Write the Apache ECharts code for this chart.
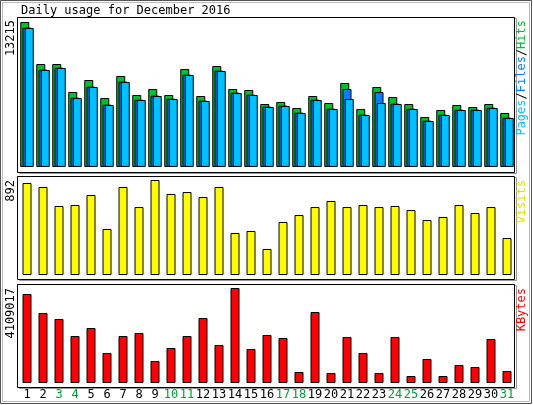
<!DOCTYPE html>
<html><head><meta charset="utf-8">
<script src="https://cdn.jsdelivr.net/npm/echarts@6/dist/echarts.min.js"></script>
<style>html,body{margin:0;padding:0;background:#fff}#c{width:533px;height:405px}</style>
</head><body><div id="c"></div>
<script>
const days = ['1','2','3','4','5','6','7','8','9','10','11','12','13','14','15','16','17','18','19','20','21','22','23','24','25','26','27','28','29','30','31'];
const weekendDays = ['3','4','10','11','17','18','24','25','31'];
const hits = [13215,9387,9387,6836,7929,6289,8294,6562,7109,6562,8932,6471,9205,7109,7018,5742,5924,5377,6471,5833,7656,5286,7291,6380,5742,4557,5195,5651,5468,5742,4922];
const files = [12700,8870,9050,6310,7320,5680,7780,6130,6500,6220,8410,6040,8780,6770,6590,5500,5590,4950,6130,5310,7109,4760,6836,5770,5310,4220,4760,5220,5220,5400,4490];
const pages = [12668,8841,9023,6289,7291,5651,7747,6106,6471,6198,8385,6015,8749,6744,6562,5468,5560,4922,6106,5286,6198,4739,5833,5742,5286,4192,4739,5195,5195,5377,4466];
const visits = [864,826,648,657,751,432,826,638,892,761,779,732,826,394,413,244,498,563,638,695,638,657,638,648,610,516,545,657,582,638,347];
const kbytes = [3850000,3028000,2768000,2033000,2379000,1298000,2033000,2163000,952000,1514000,2033000,2811000,1644000,4109017,1471000,2076000,1946000,476000,3071000,433000,1990000,1298000,433000,1990000,303000,1038000,303000,779000,692000,1903000,519000];
const maxLabels = ['13215','892','4109017'];
const title = 'Daily usage for December 2016';

const FONT = 'DejaVu Sans Mono';
const chart = echarts.init(document.getElementById('c'), null, {renderer:'canvas'});
const grids = [
  {left:19, width:496, top:22, height:145},
  {left:19, width:496, top:180, height:95},
  {left:19, width:496, top:288, height:95}
];
const maxes = [13215, 892, 4109017];
const xAxes = grids.map((g,i)=>({type:'category', gridIndex:i, data:days,
  axisLine:{show:false}, axisTick:{show:false},
  axisLabel:{show:i===2, fontFamily:FONT, fontSize:12, margin:6, interval:0,
    color:(v)=> weekendDays.includes(v) ? '#00a030' : '#000'}}));
const yAxes = grids.map((g,i)=>({type:'value', gridIndex:i, min:0, max:maxes[i], show:false}));
const bs = (c)=>({color:c, borderColor:'#000', borderWidth:1});
const series = [
  {type:'bar', xAxisIndex:0, yAxisIndex:0, data:hits, barWidth:9, barGap:'-75%', itemStyle:bs('#00c030')},
  {type:'bar', xAxisIndex:0, yAxisIndex:0, data:files, barWidth:9, barGap:'-75%', itemStyle:bs('#0080ff')},
  {type:'bar', xAxisIndex:0, yAxisIndex:0, data:pages, barWidth:9, barGap:'-75%', itemStyle:bs('#00c0ff')},
  {type:'bar', xAxisIndex:1, yAxisIndex:1, data:visits, barWidth:9, itemStyle:bs('#ffff00')},
  {type:'bar', xAxisIndex:2, yAxisIndex:2, data:kbytes, barWidth:9, itemStyle:bs('#ff0000')}
];
const frame = (y1,y2)=>[
  {type:'rect', shape:{x:19.5,y:y1+1.5,width:497,height:y2-y1}, style:{fill:'none',stroke:'#999',lineWidth:1}, z:-1},
  {type:'rect', shape:{x:17.5,y:y1+0.5,width:497,height:y2-y1}, style:{fill:'#fff',stroke:'#000',lineWidth:1}, z:-1}
];
const rot = (text, x, y, style)=>({type:'text', x:x, y:y, rotation:Math.PI/2,
  style:Object.assign({text:text, font:'12px '+FONT, fill:'#000', align:'right', verticalAlign:'middle'}, style)});
chart.setOption({
  animation:false,
  grid:grids, xAxis:xAxes, yAxis:yAxes, series:series,
  graphic:[
    {type:'rect', shape:{x:0.5,y:0.5,width:531,height:403}, style:{fill:'none',stroke:'#555',lineWidth:1}, z:-2},
    {type:'rect', shape:{x:2.5,y:2.5,width:527,height:399}, style:{fill:'none',stroke:'#bbb',lineWidth:1}, z:-2},
    ...frame(17,172), ...frame(176,279), ...frame(284,387),
    {type:'text', x:21, y:11, style:{text:title, font:'12px '+FONT, fill:'#000', verticalAlign:'middle'}},
    rot(maxLabels[0], 11, 20, {align:'right'}),
    rot(maxLabels[1], 11, 180, {align:'right'}),
    rot(maxLabels[2], 11, 288, {align:'right'}),
    {type:'text', x:522, y:20, rotation:Math.PI/2,
      style:{text:'{p|Pages}{s|/}{f|Files}{s|/}{h|Hits}', align:'right', verticalAlign:'middle', font:'12px '+FONT,
        rich:{p:{fill:'#00c0ff',font:'12px '+FONT}, f:{fill:'#0080ff',font:'12px '+FONT}, h:{fill:'#00c030',font:'12px '+FONT}, s:{fill:'#000',font:'12px '+FONT}}}},
    rot('Visits', 522, 180, {fill:'#e0e000'}),
    rot('KBytes', 522, 288, {fill:'#ff0000'})
  ]
});
</script></body></html>
